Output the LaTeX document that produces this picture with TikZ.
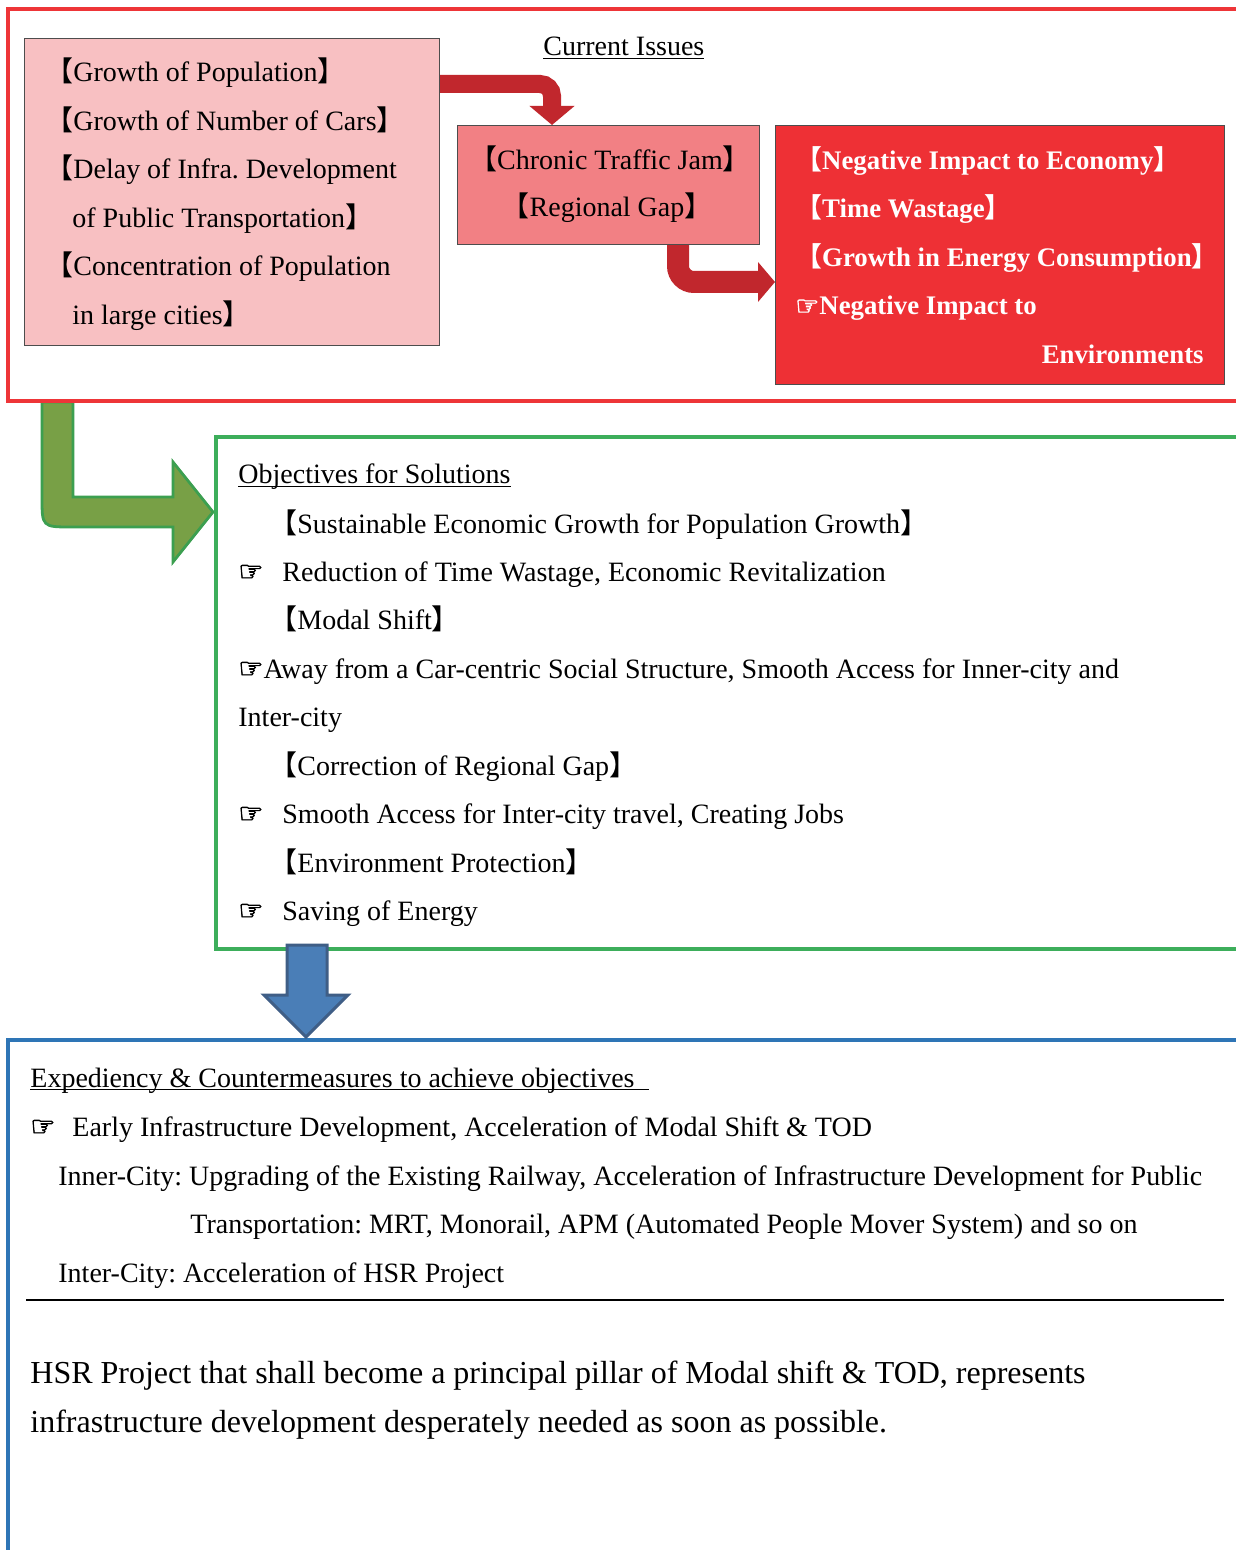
\documentclass[tikz,border=0pt]{standalone}
\usepackage{fontspec}
\usepackage{xcolor}
\usepackage{tikz}
\usetikzlibrary{arrows.meta}
\setmainfont{Liberation Serif}
\newfontfamily\cjk{Noto Sans CJK JP}
\newfontfamily\symb[FakeBold=2.5]{DejaVu Sans}
\definecolor{IssueRed}{HTML}{EE3538}
\definecolor{CauseFill}{HTML}{F8C0C2}
\definecolor{JamFill}{HTML}{F28084}
\definecolor{ImpactFill}{HTML}{EE3035}
\definecolor{ArrowRed}{HTML}{C1272D}
\definecolor{BoxLine}{HTML}{4D4D4D}
\definecolor{AimGreen}{HTML}{3DAE5B}
\definecolor{GreenArrow}{HTML}{78A046}
\definecolor{GreenArrowLine}{HTML}{3C9F50}
\definecolor{PlanBlue}{HTML}{2E75B6}
\definecolor{BlueArrow}{HTML}{4A7EB7}
\definecolor{BlueArrowLine}{HTML}{3F5E86}
\newcommand\LBr{{\cjk 【}}
\newcommand\RBr{{\cjk 】}}
\newcommand\Hand{{\symb ☞}}
\newcommand\HandGap[1][22pt]{\makebox[#1][l]{\Hand}}
\newcommand\Uline[1]{\setbox0\hbox{#1}\rlap{\rule[-1.6pt]{\wd0}{0.6pt}}\box0}
\frenchspacing

\begin{document}
\begin{tikzpicture}[x=0.5pt,y=-0.5pt,
  txt/.style={anchor=base west,inner sep=0pt,font=\fontsize{14pt}{17pt}\selectfont},
  wtxt/.style={txt,text=white,font=\fontsize{13.4pt}{17pt}\selectfont\bfseries},
  bigtxt/.style={txt,font=\fontsize{16pt}{19pt}\selectfont},
  box/.style={draw=BoxLine,line width=.6pt,inner sep=0pt,anchor=north west},
  redarrow/.style={ArrowRed,rounded corners=6pt}]
\path[use as bounding box] (0,0) rectangle (1235,1550);
\fill[white] (0,0) rectangle (1235,1550);
% block arrows between the frames
\draw[GreenArrowLine,fill=GreenArrow,line width=1.4pt] (173,527) -- (72,527) .. controls (42,527) .. (42,497) -- (42,402) -- (73,402) -- (73,497) -- (173,497) -- (173,462) -- (213,512) -- (173,562) -- cycle;
\draw[IssueRed,line width=2pt] (8,9) rectangle (1250,401);
\draw[AimGreen,line width=2pt] (216,437) rectangle (1250,949);
\draw[PlanBlue,line width=2pt] (8,1040) rectangle (1250,1600);
\draw[BlueArrowLine,fill=BlueArrow,line width=1.5pt] (287,945) -- (327,945) -- (327,995) -- (348,995) -- (306,1037) -- (264,995) -- (287,995) -- cycle;
% current issues
\node[box,fill=CauseFill,minimum width=207.5pt,minimum height=153.5pt] (causes) at (24,38) {};
\node[box,fill=JamFill,minimum width=151pt,minimum height=59.5pt] (jam) at (457,125) {};
\node[box,fill=ImpactFill,minimum width=224.5pt,minimum height=129.5pt] (impact) at (775,125) {};
\node[txt] (cur) at (543,56) {\Uline{Current Issues}};
\node[txt] (c1) at (45,82) {\LBr Growth of Population\RBr};
\node[txt] (c2) at (45,131) {\LBr Growth of Number of Cars\RBr};
\node[txt] (c3) at (45,179) {\LBr Delay of Infra. Development};
\node[txt] (c4) at (72,228) {of Public Transportation\RBr};
\node[txt] (c5) at (45,276) {\LBr Concentration of Population};
\node[txt] (c6) at (72,325) {in large cities\RBr};
\node[txt,anchor=base] (j1) at (610,170) {\LBr Chronic Traffic Jam\RBr};
\node[txt,anchor=base] (j2) at (607,217) {\LBr Regional Gap\RBr};
\node[wtxt] (i1) at (795,170) {\LBr Negative Impact to Economy\RBr};
\node[wtxt] (i2) at (795,218) {\LBr Time Wastage\RBr};
\node[wtxt] (i3) at (795,267) {\LBr Growth in Energy Consumption\RBr};
\node[wtxt] (i4) at (795,315) {\Hand Negative Impact to};
\node[wtxt,anchor=base east] (i5) at (1204,364) {Environments};
\draw[redarrow,line width=9pt,-{Triangle[length=9.5pt 0,width=22pt 0]}] (causes.east |- 0,84) -| (jam.north -| 552,0);
\draw[redarrow,line width=11pt,rounded corners=8pt,-{Triangle[length=8.5pt 0,width=19.5pt 0]}] (jam.south -| 678,0) |- (impact.west |- 0,282);
% objectives
\node[txt] (o0) at (238,484) {\Uline{Objectives for Solutions}};
\node[txt] (o1) at (269,533) {\LBr Sustainable Economic Growth for Population Growth\RBr};
\node[txt] (o2) at (238,581) {\HandGap Reduction of Time Wastage, Economic Revitalization};
\node[txt] (o3) at (269,629) {\LBr Modal Shift\RBr};
\node[txt] (o4) at (238,678) {\Hand Away from a Car-centric Social Structure, Smooth Access for Inner-city and};
\node[txt] (o5) at (238,726) {Inter-city};
\node[txt] (o6) at (269,775) {\LBr Correction of Regional Gap\RBr};
\node[txt] (o7) at (238,823) {\HandGap Smooth Access for Inter-city travel, Creating Jobs};
\node[txt] (o8) at (269,872) {\LBr Environment Protection\RBr};
\node[txt] (o9) at (238,920) {\HandGap Saving of Energy};
% countermeasures
\node[txt] (e0) at (30,1087) {\Uline{Expediency \& Countermeasures to achieve objectives\hspace{7pt}}};
\node[txt] (e1) at (30,1136) {\HandGap[21pt]Early Infrastructure Development, Acceleration of Modal Shift \& TOD};
\node[txt] (e2) at (58,1185) {Inner-City: Upgrading of the Existing Railway, Acceleration of Infrastructure Development for Public};
\node[txt] (e3) at (190,1233) {Transportation: MRT, Monorail, APM (Automated People Mover System) and so on};
\node[txt] (e4) at (58,1282) {Inter-City: Acceleration of HSR Project};
\draw[line width=1pt] (26,1300) -- (1224,1300);
\node[bigtxt] (h1) at (30,1383) {HSR Project that shall become a principal pillar of Modal shift \& TOD, represents};
\node[bigtxt] (h2) at (30,1432) {infrastructure development desperately needed as soon as possible.};
\end{tikzpicture}
\end{document}
